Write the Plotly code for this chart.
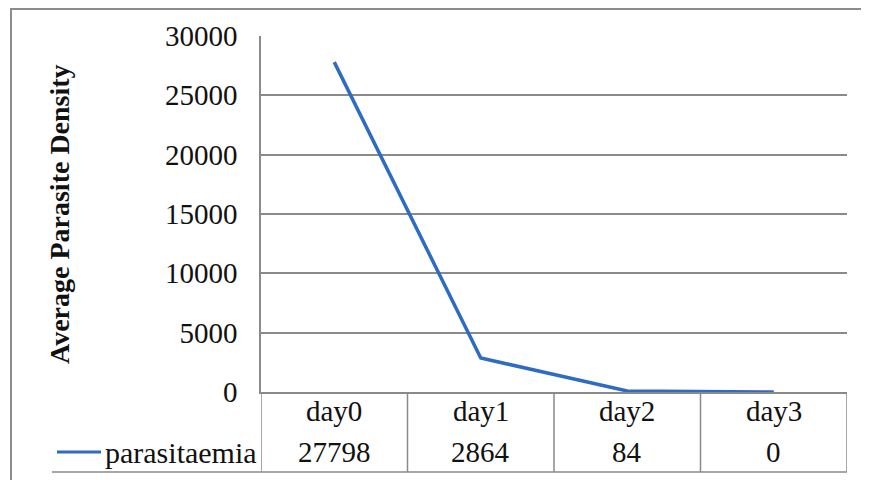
import plotly.graph_objects as go

categories = ["day0", "day1", "day2", "day3"]
values = [27798, 2864, 84, 0]
series_name = "parasitaemia"
y_ticks = [0, 5000, 10000, 15000, 20000, 25000, 30000]
y_title = "Average Parasite Density"

OFF = 8  # page body margin offset
W, H = 869 - OFF, 480 - OFF
L, R, T, B = 261 - OFF, 22, 36 - OFF, 88
pw = W - L - R
ph = H - T - B

def px_x(p):
    return (p - OFF - L) / pw

def px_y(p):
    return (H - B - (p - OFF)) / ph

FONT = "Liberation Serif, Times New Roman, serif"
LINE_COLOR = "#2D6BC4"
GRID = "#8a8a8a"
TXT = "#111111"
FS = 29

fig = go.Figure()
fig.add_trace(go.Scatter(
    x=list(range(len(categories))), y=values, mode="lines",
    name=series_name, line=dict(color=LINE_COLOR, width=3.5),
    showlegend=False,
))

shapes = []
shapes.append(dict(type="rect", xref="paper", yref="paper",
                   x0=px_x(11), x1=px_x(880), y0=px_y(495), y1=px_y(9),
                   line=dict(color="#8c8c8c", width=2), layer="below"))
n = len(categories)
for i in range(n + 1):
    shapes.append(dict(type="line", xref="x", yref="paper",
                       x0=i - 0.5, x1=i - 0.5, y0=0, y1=px_y(472),
                       line=dict(color=GRID, width=1.5)))
shapes.append(dict(type="line", xref="paper", yref="paper",
                   x0=px_x(52), x1=1, y0=px_y(472), y1=px_y(472),
                   line=dict(color=GRID, width=1.5)))
shapes.append(dict(type="line", xref="paper", yref="paper",
                   x0=px_x(57), x1=px_x(101), y0=px_y(452), y1=px_y(452),
                   line=dict(color=LINE_COLOR, width=3)))

annotations = []
for i, (c, v) in enumerate(zip(categories, values)):
    annotations.append(dict(x=i, y=px_y(411), xref="x", yref="paper", text=c,
                            xanchor="center", yanchor="middle", showarrow=False,
                            font=dict(family=FONT, size=FS, color=TXT)))
    annotations.append(dict(x=i, y=px_y(452), xref="x", yref="paper", text=str(v),
                            xanchor="center", yanchor="middle", showarrow=False,
                            font=dict(family=FONT, size=FS, color=TXT)))
annotations.append(dict(x=px_x(259), y=px_y(452), xref="paper", yref="paper",
                        text=series_name, xanchor="right", yanchor="middle",
                        showarrow=False, font=dict(family=FONT, size=FS + 1, color=TXT)))
annotations.append(dict(x=px_x(59), y=px_y(214), xref="paper", yref="paper",
                        text="<b>" + y_title + "</b>", textangle=-90,
                        xanchor="center", yanchor="middle", showarrow=False,
                        font=dict(family=FONT, size=28, color=TXT)))

fig.update_layout(
    width=W, height=H,
    margin=dict(l=L, r=R, t=T, b=B, autoexpand=False),
    paper_bgcolor="white", plot_bgcolor="white",
    shapes=shapes, annotations=annotations,
    xaxis=dict(range=[-0.5, n - 0.5], showticklabels=False, showgrid=False,
               zeroline=False, showline=True, linecolor=GRID, linewidth=1.5,
               ticks=""),
    yaxis=dict(range=[0, 30000], tickvals=y_ticks, tickformat="d",
               showgrid=True, gridcolor=GRID, gridwidth=1.5, zeroline=False,
               showline=True, linecolor=GRID, linewidth=1.5, ticks="",
               ticklabelstandoff=16,
               tickfont=dict(family=FONT, size=FS, color=TXT)),
)
fig.write_html("out.html")
